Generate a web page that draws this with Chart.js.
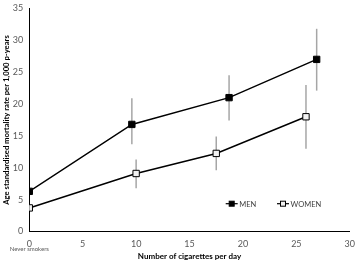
<!DOCTYPE html>
<html><head><meta charset="utf-8">
<script src="https://cdn.jsdelivr.net/npm/chart.js@4/dist/chart.umd.min.js"></script>
<style>html,body{margin:0;padding:0;background:#fff}#wrap{width:358px;height:262px}</style>
</head><body><div id="wrap"><canvas id="c" width="358" height="262"></canvas></div>
<script>
const menX = [0, 9.6, 18.7, 26.9];
const menY = [6.3, 16.8, 21.0, 27.0];
const menLow = [null, 13.7, 17.4, 22.1];
const menHigh = [null, 20.9, 24.5, 31.8];
const womenX = [0, 10.0, 17.5, 25.9];
const womenY = [3.7, 9.1, 12.25, 18.0];
const womenLow = [null, 6.8, 9.6, 13.0];
const womenHigh = [null, 11.3, 14.9, 23.0];
const xTicks = [0, 5, 10, 15, 20, 25, 30];
const yTicks = [0, 5, 10, 15, 20, 25, 30, 35];
const seriesNames = ['MEN', 'WOMEN'];

const FONT = "Lato, 'Open Sans', sans-serif";

const errPlugin = {
  id: 'err',
  beforeDatasetsDraw(chart) {
    const ctx = chart.ctx, xs = chart.scales.x, ys = chart.scales.y;
    ctx.save();
    ctx.strokeStyle = '#a6a6a6';
    ctx.lineWidth = 1.5;
    const draw = (X, L, H) => {
      X.forEach((x, i) => {
        if (L[i] == null) return;
        const px = xs.getPixelForValue(x);
        ctx.beginPath();
        ctx.moveTo(px, ys.getPixelForValue(L[i]));
        ctx.lineTo(px, ys.getPixelForValue(H[i]));
        ctx.stroke();
      });
    };
    draw(menX, menLow, menHigh);
    draw(womenX, womenLow, womenHigh);
    ctx.restore();
  },
  afterDraw(chart) {
    const ctx = chart.ctx, xs = chart.scales.x;
    ctx.save();
    ctx.fillStyle = '#595959';
    ctx.font = "6px " + FONT;
    ctx.textAlign = 'center';
    ctx.textBaseline = 'middle';
    ctx.fillText('Never smokers', xs.getPixelForValue(0), 249.5);
    const ly = 203.7;
    const items = [
      {x: 225.7, fill: '#000', name: seriesNames[0]},
      {x: 277, fill: '#f2f2f2', name: seriesNames[1]}
    ];
    ctx.font = "7.5px " + FONT;
    ctx.textAlign = 'left';
    items.forEach(it => {
      ctx.strokeStyle = '#000';
      ctx.lineWidth = 1.2;
      ctx.beginPath();
      ctx.moveTo(it.x, ly); ctx.lineTo(it.x + 12, ly); ctx.stroke();
      ctx.fillStyle = it.fill;
      ctx.fillRect(it.x + 3.5, ly - 2.5, 5, 5);
      ctx.lineWidth = 1;
      ctx.strokeRect(it.x + 3.5, ly - 2.5, 5, 5);
      ctx.fillStyle = '#404040';
      ctx.fillText(it.name, it.x + 13.5, ly + 0.5);
    });
    ctx.restore();
  }
};

new Chart(document.getElementById('c'), {
  type: 'line',
  data: {
    datasets: [
      {label: seriesNames[0], data: menX.map((x, i) => ({x, y: menY[i]})),
       borderColor: '#000', borderWidth: 1.5, pointStyle: 'rect', pointRadius: 4.5,
       pointBackgroundColor: '#000', pointBorderColor: '#000', pointBorderWidth: 1, tension: 0},
      {label: seriesNames[1], data: womenX.map((x, i) => ({x, y: womenY[i]})),
       borderColor: '#000', borderWidth: 1.5, pointStyle: 'rect', pointRadius: 4.5,
       pointBackgroundColor: '#f2f2f2', pointBorderColor: '#000', pointBorderWidth: 1, tension: 0}
    ]
  },
  options: {
    responsive: false, animation: false, devicePixelRatio: 1,
    layout: {padding: {top: 1.5, right: 5.7, left: 0, bottom: 0}},
    plugins: {legend: {display: false}, tooltip: {enabled: false}},
    scales: {
      x: {
        type: 'linear', min: 0, max: 30,
        afterBuildTicks: s => { s.ticks = xTicks.map(v => ({value: v})); },
        afterFit: s => { s.height = 30.5; },
        grid: {display: false, drawTicks: true, tickLength: 4, color: '#000'},
        border: {color: '#000', width: 1},
        ticks: {color: '#595959', font: {family: FONT, size: 9}, padding: 3, maxRotation: 0},
        title: {display: true, text: 'Number of cigarettes per day', color: '#000',
                font: {family: FONT, size: 8, weight: 'bold'}, padding: {top: 8, bottom: 0.5}}
      },
      y: {
        type: 'linear', min: 0, max: 35,
        afterBuildTicks: s => { s.ticks = yTicks.map(v => ({value: v})); },
        afterFit: s => { s.width = 29.3; },
        grid: {display: false, drawTicks: true, tickLength: 3, color: '#000'},
        border: {color: '#000', width: 1},
        ticks: {color: '#595959', font: {family: FONT, size: 9}, padding: 3},
        title: {display: true, text: 'Age standardised mortality rate per 1,000 p-years', color: '#000',
                font: {family: FONT, size: 7.7, weight: 'bold'}, padding: {top: 1.5, bottom: 1}}
      }
    }
  },
  plugins: [errPlugin]
});
</script></body></html>
